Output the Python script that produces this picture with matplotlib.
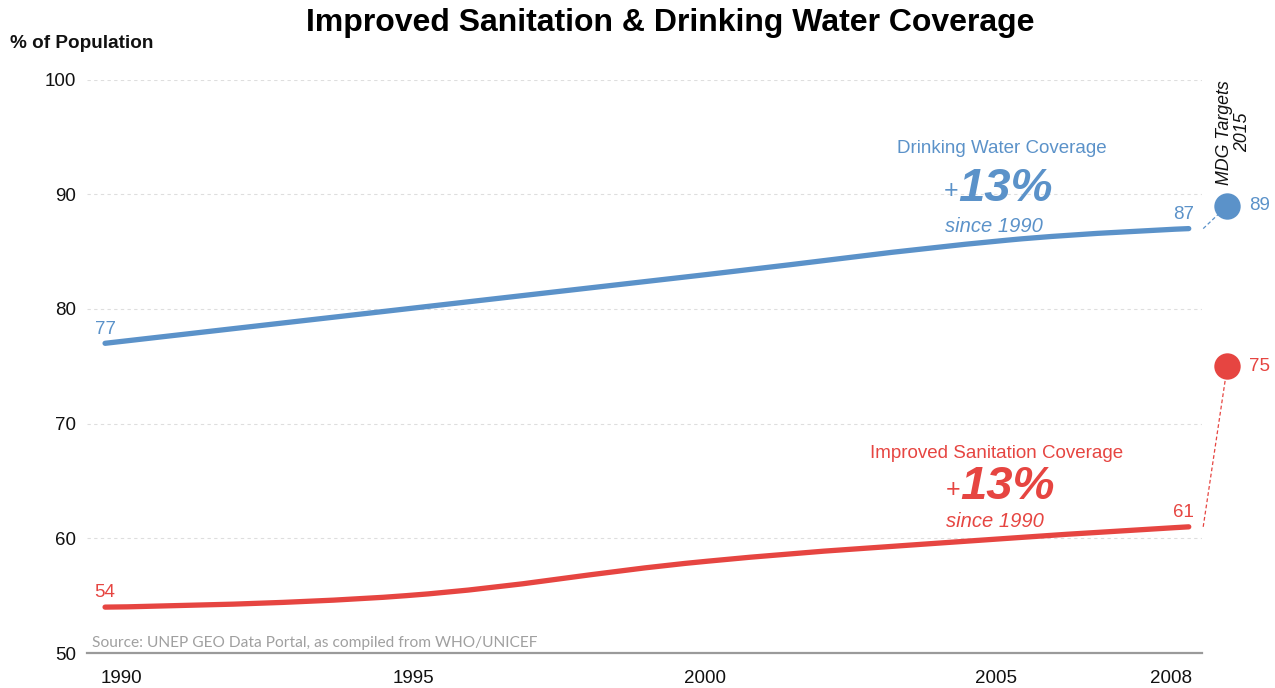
import matplotlib
matplotlib.use('Agg')
import matplotlib.pyplot as plt
from matplotlib.path import Path
from matplotlib.patches import PathPatch

plt.rcParams['font.family'] = ['Liberation Sans', 'DejaVu Sans']

# data
years = [1990, 1995, 2000, 2005, 2008]
water = [77, 80, 83, 86, 87]
sanitation = [54, 55, 58, 60, 61]
targets = {'water': 89, 'sanitation': 75}
tick_years = [1990, 1995, 2000, 2005, 2008]
y_ticks = [50, 60, 70, 80, 90, 100]

blue = '#5b92c9'
red = '#e64541'


def spline_path(xs, ys, smoothing=1.5):
    # highcharts-like spline through the points
    n = len(xs)
    denom = smoothing + 1
    left = [(xs[i], ys[i]) for i in range(n)]
    right = [(xs[i], ys[i]) for i in range(n)]
    for j in range(1, n - 1):
        px, py = xs[j], ys[j]
        lx, ly = xs[j - 1], ys[j - 1]
        nx, ny = xs[j + 1], ys[j + 1]
        lcx = (smoothing * px + lx) / denom
        lcy = (smoothing * py + ly) / denom
        rcx = (smoothing * px + nx) / denom
        rcy = (smoothing * py + ny) / denom
        if rcx != lcx:
            corr = (rcy - lcy) * (rcx - px) / (rcx - lcx) + py - rcy
            lcy += corr
            rcy += corr
            if lcy > ly and lcy > py:
                lcy = max(ly, py); rcy = 2 * py - lcy
            elif lcy < ly and lcy < py:
                lcy = min(ly, py); rcy = 2 * py - lcy
            if rcy > ny and rcy > py:
                rcy = max(ny, py); lcy = 2 * py - rcy
            elif rcy < ny and rcy < py:
                rcy = min(ny, py); lcy = 2 * py - rcy
        left[j] = (lcx, lcy)
        right[j] = (rcx, rcy)
    verts = [(xs[0], ys[0])]
    codes = [Path.MOVETO]
    for i in range(1, n):
        verts += [right[i - 1], left[i], (xs[i], ys[i])]
        codes += [Path.CURVE4] * 3
    return Path(verts, codes)


fig = plt.figure(figsize=(12.75, 6.88), dpi=100)
ax = fig.add_axes([87 / 1275, 1 - 653 / 688, 1115 / 1275, 573.5 / 688])
ax.set_xlim(1989.70, 2008.22)
ax.set_ylim(50, 100)

for s in ['top', 'right', 'left']:
    ax.spines[s].set_visible(False)
ax.spines['bottom'].set_color('#9a9a9a')
ax.spines['bottom'].set_linewidth(1.6)

ax.set_yticks(y_ticks)
# the original's category labels sit slightly off the points, squeeze them the same way
ax.set_xticks([1990.28 + 0.968 * (y - 1990) for y in tick_years])
ax.set_xticklabels([str(y) for y in tick_years])
ax.tick_params(axis='y', length=0, pad=8, labelsize=13.5, labelcolor='#111111')
ax.tick_params(axis='x', length=0, pad=12, labelsize=13.5, labelcolor='#111111')
for v in y_ticks[1:]:
    ax.axhline(v, color='#dedede', lw=0.8, ls=(0, (3, 3)), zorder=0)

for vals, col in [(water, blue), (sanitation, red)]:
    ax.add_patch(PathPatch(spline_path(years, vals), fill=False, edgecolor=col,
                           lw=3.8, capstyle='round', zorder=3))

# end/start value labels
for vals, col in [(water, blue), (sanitation, red)]:
    ax.annotate(str(vals[0]), (years[0], vals[0]), xytext=(0, 7), textcoords='offset points',
                ha='center', va='baseline', fontsize=13.5, color=col)
    ax.annotate(str(vals[-1]), (years[-1], vals[-1]), xytext=(-4, 7), textcoords='offset points',
                ha='center', va='baseline', fontsize=13.5, color=col)

# MDG targets 2015
tx = 2008.64
for key, last, col in [('water', water[-1], blue), ('sanitation', sanitation[-1], red)]:
    tv = targets[key]
    ax.plot([years[-1] + 0.24, tx], [last, tv], color=col, lw=0.9, ls=(0, (3, 2)),
            clip_on=False, zorder=2)
    ax.plot([tx], [tv], 'o', ms=19, color=col, mec='none', clip_on=False, zorder=4)
    ax.text(tx + 0.36, tv, str(tv), ha='left', va='center', fontsize=13.5, color=col)

ax.text(2008.74, 95.4, 'MDG Targets\n2015', rotation=90, ha='center', va='center',
        fontsize=12.8, style='italic', color='#111111', linespacing=1.05)

# annotations
ax.text(2004.9, 94.0, 'Drinking Water Coverage', ha='center', va='center', fontsize=13.5, color=blue)
ax.text(2004.17, 90.3, '+', ha='right', va='center', fontsize=18, color=blue)
ax.text(2004.17, 90.45, '13%', ha='left', va='center', fontsize=34, color=blue,
        weight='bold', style='italic')
ax.text(2004.77, 87.2, 'since 1990', ha='center', va='center', fontsize=14.5, color=blue, style='italic')

ax.text(2004.8, 67.4, 'Improved Sanitation Coverage', ha='center', va='center', fontsize=13.5, color=red)
ax.text(2004.2, 64.25, '+', ha='right', va='center', fontsize=18, color=red)
ax.text(2004.2, 64.45, '13%', ha='left', va='center', fontsize=34, color=red,
        weight='bold', style='italic')
ax.text(2004.78, 61.5, 'since 1990', ha='center', va='center', fontsize=14.5, color=red, style='italic')

ax.text(0.0045, 0.011, 'Source: UNEP GEO Data Portal, as compiled from WHO/UNICEF',
        transform=ax.transAxes, ha='left', va='baseline', fontsize=11.2, color='#a0a0a0',
        family=['Lato', 'DejaVu Sans'])

fig.text(670 / 1275, 1 - 23 / 688, 'Improved Sanitation & Drinking Water Coverage',
         ha='center', va='center', fontsize=23, weight='bold', color='#000000')
fig.text(10 / 1275, 1 - 44 / 688, '% of Population', ha='left', va='center',
         fontsize=13.6, weight='bold', color='#111111')

fig.savefig('out.png', dpi=100)
